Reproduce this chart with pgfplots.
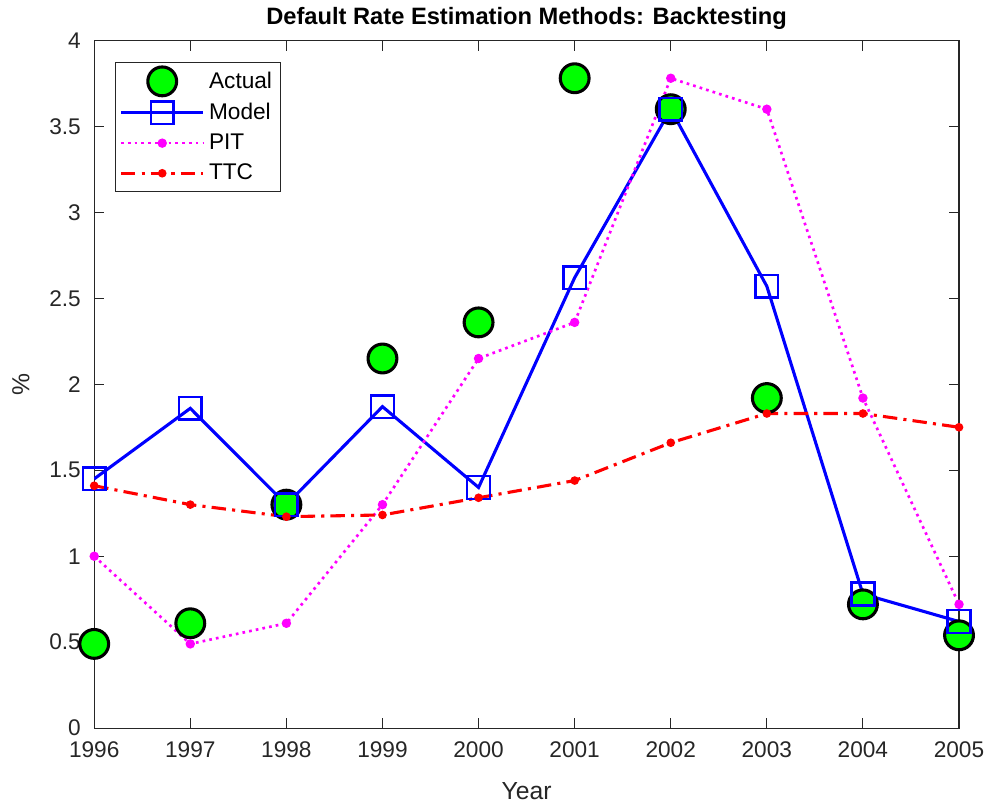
\documentclass[border=0pt]{standalone}
\usepackage{fontspec}
\setmainfont{Liberation Sans}
\usepackage{pgfplots}
\pgfplotsset{compat=1.18}
\definecolor{axgray}{rgb}{0.15,0.15,0.15}
\definecolor{mgreen}{rgb}{0,1,0}
\definecolor{mblue}{rgb}{0,0,1}
\definecolor{mmagenta}{rgb}{1,0,1}
\definecolor{mred}{rgb}{1,0,0}
\pgfplotsset{
    linelegend/.style={legend image code/.code={
        \draw[##1] (0pt,0pt) -- (20pt,0pt) -- (40pt,0pt);
        \draw[##1, mark repeat=2, mark phase=2] plot coordinates {(0pt,0pt) (20pt,0pt) (40pt,0pt)};
    }},
    marklegend/.style={legend image code/.code={
        \draw[##1] plot coordinates {(20pt,0pt)};
    }},
}
\begin{document}
\begin{tikzpicture}
\begin{axis}[
    scale only axis,
    width=420pt, height=334pt,
    xmin=1996, xmax=2005, ymin=0, ymax=4,
    xtick={1996,...,2005}, ytick={0,0.5,...,4},
    x tick label style={/pgf/number format/1000 sep=},
    /pgf/number format/assume math mode=true,
    tick label style={font=\fontsize{11}{13}\selectfont, text=axgray},
    yticklabel style={xshift=-3pt},
    xticklabel style={yshift=-3pt},
    label style={font=\fontsize{12}{14}\selectfont, text=axgray},
    xlabel={Year}, ylabel={\%},
    ylabel style={inner ysep=6pt},
    xlabel style={yshift=-5pt},
    title={\textbf{Default Rate Estimation Methods: Backtesting}},
    title style={font=\fontsize{11.5}{14}\selectfont, yshift=-4pt},
    axis line style={axgray, line width=0.6pt},
    tick style={axgray, line width=0.6pt},
    tick align=inside, major tick length=5pt,
    legend style={at={(0.024,0.968)}, anchor=north west, draw=axgray,
        font=\fontsize{11}{13}\selectfont, cells={anchor=west}, row sep=1.5pt,
        inner sep=2pt},
]
\addplot[only marks, mark=*, mark size=7pt, mark options={fill=mgreen, draw=black, line width=1.5pt}, marklegend]
  coordinates {(1996,0.49) (1997,0.61) (1998,1.30) (1999,2.15) (2000,2.36)
               (2001,3.78) (2002,3.60) (2003,1.92) (2004,0.72) (2005,0.54)};
\addlegendentry{Actual}
\addplot[mblue, line width=1.5pt, mark=square, mark size=5.5pt, mark options={solid, line width=1.2pt}, linelegend]
  coordinates {(1996,1.45) (1997,1.86) (1998,1.30) (1999,1.87) (2000,1.40)
               (2001,2.62) (2002,3.60) (2003,2.57) (2004,0.78) (2005,0.62)};
\addlegendentry{Model}
\addplot[mmagenta, line width=1.3pt, dotted, mark=*, mark size=1.6pt, mark options={solid}, linelegend]
  coordinates {(1996,1.00) (1997,0.49) (1998,0.61) (1999,1.30) (2000,2.15)
               (2001,2.36) (2002,3.78) (2003,3.60) (2004,1.92) (2005,0.72)};
\addlegendentry{PIT}
\addplot[mred, line width=1.5pt, dash pattern=on 7pt off 3pt on 1.5pt off 3pt, mark=*, mark size=1.3pt, mark options={solid}, linelegend]
  coordinates {(1996,1.41) (1997,1.30) (1998,1.23) (1999,1.24) (2000,1.34)
               (2001,1.44) (2002,1.66) (2003,1.83) (2004,1.83) (2005,1.75)};
\addlegendentry{TTC}
\end{axis}
\end{tikzpicture}
\end{document}
